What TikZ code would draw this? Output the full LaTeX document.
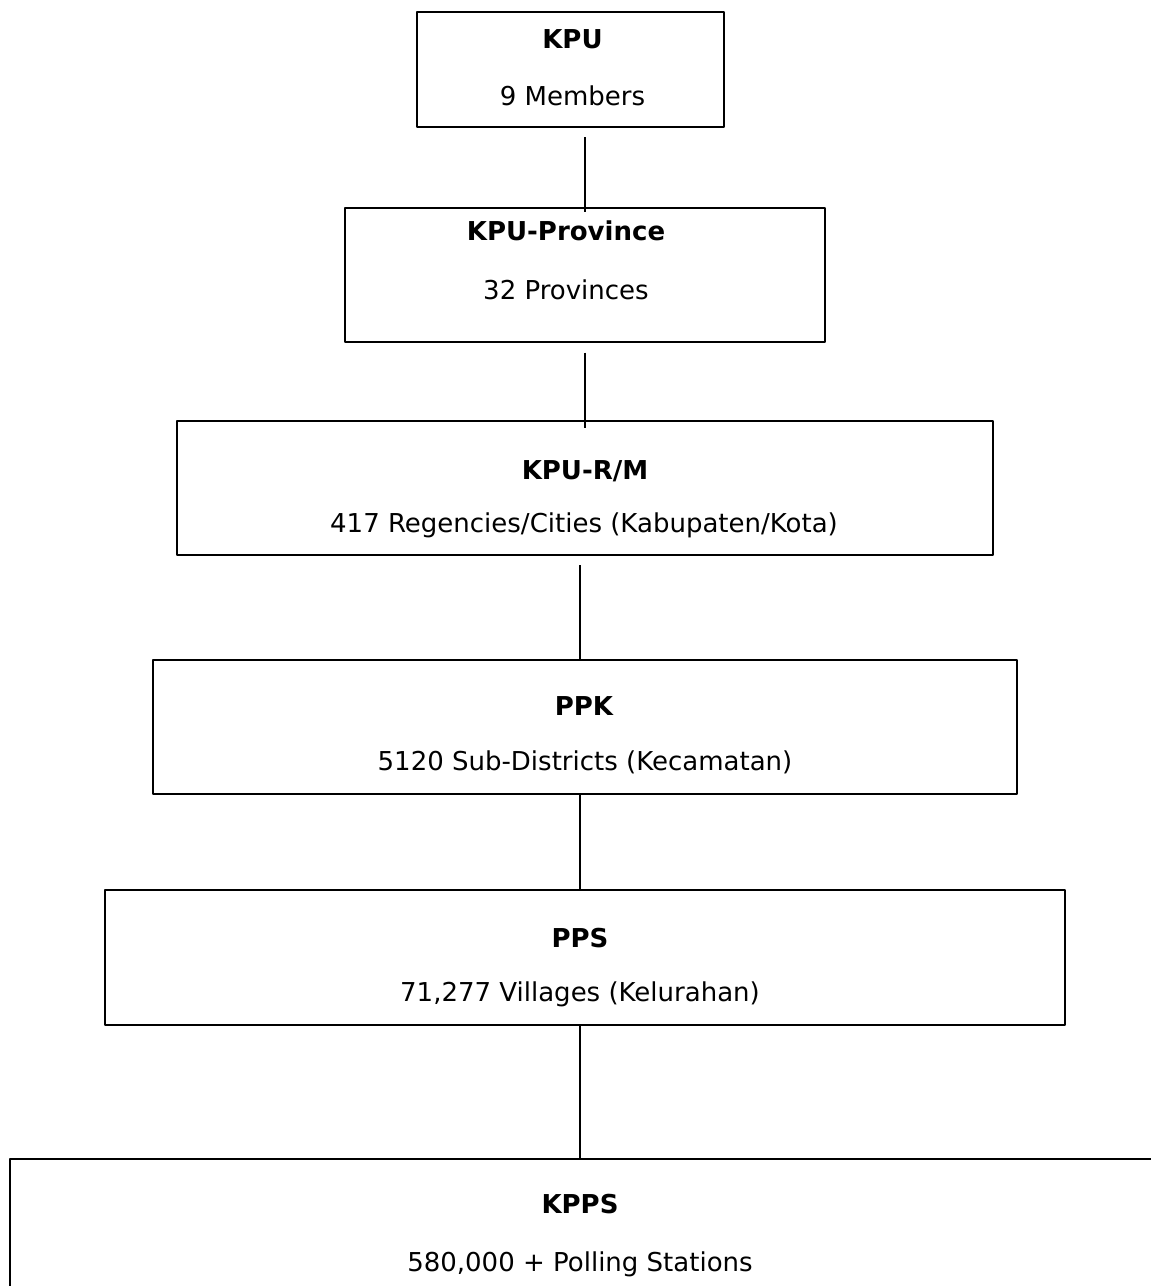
\documentclass[tikz,border=0pt]{standalone}
\usepackage{fontspec}
\setmainfont{DejaVu Sans}
\tikzset{
  box/.style={draw, line width=2.3pt, inner sep=0pt},
  head/.style={anchor=base, inner sep=0pt, font=\fontsize{26}{31}\selectfont\bfseries},
  info/.style={anchor=base, inner sep=0pt, font=\fontsize{26}{31}\selectfont},
  link/.style={line width=1.5pt}
}
\begin{document}
\begin{tikzpicture}[x=1pt, y=-1pt, line join=round, line cap=butt]
    \useasboundingbox (0,0) rectangle (1151,1286);
    \clip (0,0) rectangle (1151,1286);
    % boxes
    \node[box, minimum width=307pt, minimum height=115pt] (kpu) at (570.5,69.5) {};
    \node[box, minimum width=480pt, minimum height=134pt] (prov) at (585,275) {};
    \node[box, minimum width=816pt, minimum height=134pt] (rm) at (585,488) {};
    \node[box, minimum width=864pt, minimum height=134pt] (ppk) at (585,727) {};
    \node[box, minimum width=960pt, minimum height=135pt] (pps) at (585,957.5) {};
    \node[box, minimum width=1160pt, minimum height=151pt] (kpps) at (590,1234.5) {};
    % texts
    \node[head] (kpu-t) at (572.5,48.3) {KPU};
    \node[info] (kpu-s) at (572.5,105.3) {9 Members};
    \node[head] (prov-t) at (566,240.7) {KPU-Province};
    \node[info] (prov-s) at (566,299) {32 Provinces};
    \node[head] (rm-t) at (585,479) {KPU-R/M};
    \node[info] (rm-s) at (584,532) {417 Regencies/Cities (Kabupaten/Kota)};
    \node[head] (ppk-t) at (584,715) {PPK};
    \node[info] (ppk-s) at (585,770) {5120 Sub-Districts (Kecamatan)};
    \node[head] (pps-t) at (580,947) {PPS};
    \node[info] (pps-s) at (580,1001) {71,277 Villages (Kelurahan)};
    \node[head] (kpps-t) at (580,1213) {KPPS};
    \node[info] (kpps-s) at (580,1271) {580,000 + Polling Stations};
    % connectors
    \draw[link] ([yshift=-9pt]kpu.south -| prov.north) -- ([yshift=-5pt]prov.north);
    \draw[link] ([yshift=-9.5pt]prov.south) -- ([yshift=-8pt]rm.north);
    \draw[link] ([shift={(-5pt,-9pt)}]rm.south) -- ([xshift=-5pt]ppk.north);
    \draw[link] ([xshift=-5pt]ppk.south) -- ([xshift=-5pt]pps.north);
    \draw[link] ([xshift=-5pt]pps.south) -- ([xshift=-5pt]pps.south |- kpps.north);
\end{tikzpicture}
\end{document}
